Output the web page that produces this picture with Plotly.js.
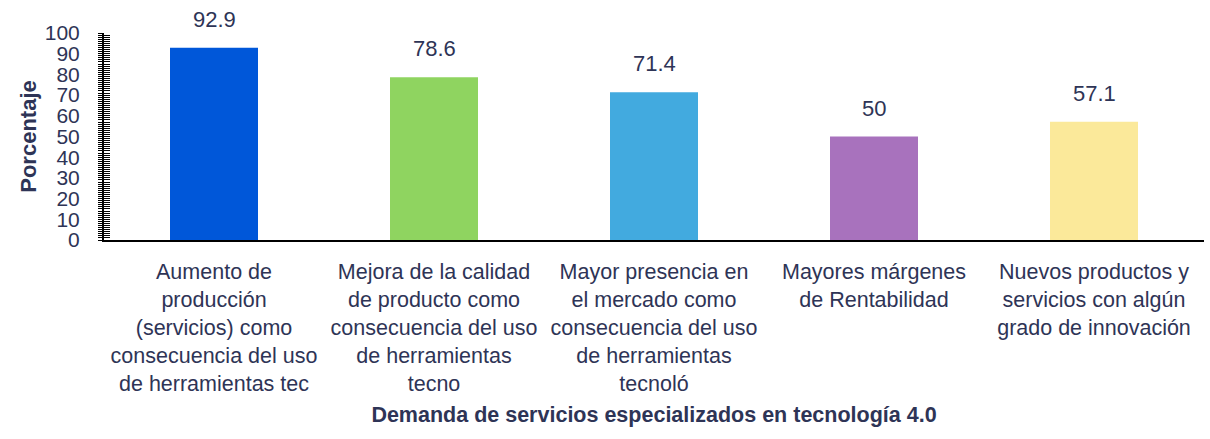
<!DOCTYPE html>
<html>
<head>
<meta charset="utf-8">
<script src="https://cdn.plot.ly/plotly-3.0.1.min.js"></script>
<style>html,body{margin:0;padding:0;background:#fff;}#chart{width:1210px;height:439px;}</style>
</head>
<body>
<div id="chart"></div>
<script>
var categories = [
  "Aumento de<br>producción<br>(servicios) como<br>consecuencia del uso<br>de herramientas tec",
  "Mejora de la calidad<br>de producto como<br>consecuencia del uso<br>de herramientas<br>tecno",
  "Mayor presencia en<br>el mercado como<br>consecuencia del uso<br>de herramientas<br>tecnoló",
  "Mayores márgenes<br>de Rentabilidad",
  "Nuevos productos y<br>servicios con algún<br>grado de innovación"
];
var values = [92.9, 78.6, 71.4, 50, 57.1];
var valueLabels = ["92.9", "78.6", "71.4", "50", "57.1"];
var barColors = ["#0057d9", "#8fd460", "#42aadf", "#a872bd", "#fbe99a"];
var yTickVals = [0, 10, 20, 30, 40, 50, 60, 70, 80, 90, 100];

var textColor = "#2e3456";
var fontFam = "Liberation Sans, Arial, sans-serif";

var trace = {
  type: "bar",
  x: categories,
  y: values,
  marker: {color: barColors},
  width: 0.4,
  hoverinfo: "none",
  showlegend: false
};

// invisible companion trace so the overlaid axis (inside tick marks) is drawn
var ghost = {
  type: "scatter",
  mode: "markers",
  x: categories,
  y: values,
  yaxis: "y2",
  marker: {opacity: 0, size: 1},
  hoverinfo: "none",
  showlegend: false
};

var annotations = categories.map(function (c, i) {
  return {
    x: c, y: values[i], xref: "x", yref: "y",
    text: valueLabels[i], showarrow: false,
    yanchor: "bottom", yshift: 14,
    font: {family: fontFam, size: 22, color: textColor}
  };
});

var layout = {
  width: 1210, height: 439,
  margin: {l: 104, r: 6, t: 33, b: 199, pad: 0},
  paper_bgcolor: "#ffffff",
  plot_bgcolor: "#ffffff",
  font: {family: fontFam, color: textColor},
  xaxis: {
    type: "category",
    showline: true, linecolor: "#000000", linewidth: 2,
    showgrid: false, zeroline: false,
    ticks: "", tickangle: 0,
    ticklabelstandoff: 11,
    tickfont: {family: fontFam, size: 21.5, color: textColor},
    title: {text: "<b>Demanda de servicios especializados en tecnología 4.0</b>",
            font: {family: fontFam, size: 21.5, color: textColor}, standoff: 12}
  },
  yaxis: {
    range: [0, 100],
    showline: true, linecolor: "#000000", linewidth: 2,
    showgrid: false, zeroline: false,
    tickmode: "array", tickvals: yTickVals,
    ticks: "outside", ticklen: 4, tickcolor: "#000000", tickwidth: 1,
    minor: {dtick: 1, ticks: "outside", ticklen: 4, tickcolor: "#000000", tickwidth: 1},
    ticklabelstandoff: 14,
    tickfont: {family: fontFam, size: 21, color: textColor},
    title: {text: "<b>Porcentaje</b>", font: {family: fontFam, size: 22, color: textColor}, standoff: 2}
  },
  yaxis2: {
    overlaying: "y", side: "left", anchor: "x", range: [0, 100],
    showline: false, showgrid: false, zeroline: false,
    showticklabels: false,
    tickmode: "array", tickvals: yTickVals,
    ticks: "inside", ticklen: 6, tickcolor: "#000000", tickwidth: 1,
    minor: {dtick: 1, ticks: "inside", ticklen: 6, tickcolor: "#000000", tickwidth: 1}
  },
  annotations: annotations,
  bargap: 0.6
};

Plotly.newPlot("chart", [trace, ghost], layout, {staticPlot: true, displayModeBar: false});
</script>
</body>
</html>
